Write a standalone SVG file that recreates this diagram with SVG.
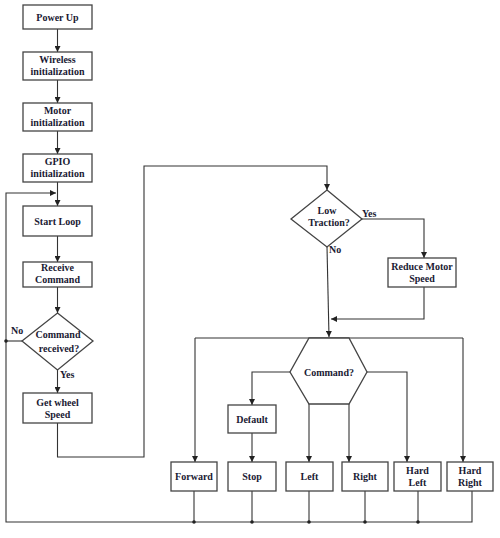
<svg xmlns="http://www.w3.org/2000/svg" width="500" height="538" viewBox="0 0 500 538">
<style>
.n rect,.n polygon{fill:#fff;stroke:#444;stroke-width:1.3}
.t{font-family:"Liberation Serif",serif;font-weight:bold;font-size:10px;fill:#1a1a33;text-anchor:middle}
.l{font-family:"Liberation Serif",serif;font-weight:bold;font-size:10px;fill:#1a1a33}
#connectors path{fill:none;stroke:#333;stroke-width:1.1}
.dot{fill:#222}
</style>
<defs>
<marker id="ah" viewBox="0 0 10 10" refX="10" refY="5" markerWidth="6" markerHeight="6" markerUnits="userSpaceOnUse" orient="auto">
<path d="M0,0 L10,5 L0,10 z" fill="#222"/>
</marker>
</defs>
<rect width="500" height="538" fill="#fff"/>
<g id="connectors">
<path d="M57.5,29 V52" marker-end="url(#ah)"/>
<path d="M57.5,80 V103" marker-end="url(#ah)"/>
<path d="M57.5,131 V154" marker-end="url(#ah)"/>
<path d="M57.5,182 V206" marker-end="url(#ah)"/>
<path d="M57.5,236 V262" marker-end="url(#ah)"/>
<path d="M57.5,287 V313" marker-end="url(#ah)"/>
<path d="M57.5,370 V393" marker-end="url(#ah)"/>
<path d="M22,341 H6"/>
<path d="M472,491 V522 H6 V193 H56" marker-end="url(#ah)"/>
<path d="M57.5,423 V457 H144 V166 H327 V190" marker-end="url(#ah)"/>
<path d="M362,219 H424 V258" marker-end="url(#ah)"/>
<path d="M327,247 L329,337" marker-end="url(#ah)"/>
<path d="M424,287 V319 H331" marker-end="url(#ah)"/>
<path d="M195,338 H463"/>
<path d="M195,338 V462" marker-end="url(#ah)"/>
<path d="M463,338 V462" marker-end="url(#ah)"/>
<path d="M290,372 H252 V405" marker-end="url(#ah)"/>
<path d="M252,433 V462" marker-end="url(#ah)"/>
<path d="M309,404 V462" marker-end="url(#ah)"/>
<path d="M349,404 V462" marker-end="url(#ah)"/>
<path d="M367,372 H407 V462" marker-end="url(#ah)"/>
<path d="M194,491 V522"/>
<path d="M252,491 V522"/>
<path d="M309,491 V522"/>
<path d="M365,491 V522"/>
<path d="M418,491 V522"/>
<circle class="dot" cx="6" cy="341" r="1.8"/>
<circle class="dot" cx="194" cy="522" r="1.8"/>
<circle class="dot" cx="252" cy="522" r="1.8"/>
<circle class="dot" cx="309" cy="522" r="1.8"/>
<circle class="dot" cx="365" cy="522" r="1.8"/>
<circle class="dot" cx="418" cy="522" r="1.8"/>
</g>
<g id="labels">
<text class="l" x="11" y="334">No</text>
<text class="l" x="60" y="378">Yes</text>
<text class="l" x="362" y="217">Yes</text>
<text class="l" x="329" y="253">No</text>
</g>
<g id="power-up" class="n"><rect x="23" y="5" width="69" height="24"/><text class="t" x="57.5" y="20.5">Power Up</text></g>
<g id="wireless" class="n"><rect x="23" y="52" width="69" height="28"/><text class="t" x="57.5" y="63">Wireless</text><text class="t" x="57.5" y="75">initialization</text></g>
<g id="motor" class="n"><rect x="23" y="103" width="69" height="28"/><text class="t" x="57.5" y="114">Motor</text><text class="t" x="57.5" y="126">initialization</text></g>
<g id="gpio" class="n"><rect x="23" y="154" width="69" height="28"/><text class="t" x="57.5" y="165">GPIO</text><text class="t" x="57.5" y="177">initialization</text></g>
<g id="start-loop" class="n"><rect x="23" y="206" width="69" height="30"/><text class="t" x="57.5" y="224.5">Start Loop</text></g>
<g id="receive" class="n"><rect x="23" y="262" width="69" height="25"/><text class="t" x="57.5" y="271">Receive</text><text class="t" x="57.5" y="283">Command</text></g>
<g id="command-received" class="n"><polygon points="57.5,313 93,341 57.5,370 22,341"/><text class="t" x="58" y="338">Command</text><text class="t" x="59" y="352">received?</text></g>
<g id="get-wheel" class="n"><rect x="23" y="393" width="69" height="30"/><text class="t" x="57.5" y="406">Get wheel</text><text class="t" x="57.5" y="418">Speed</text></g>
<g id="low-traction" class="n"><polygon points="327,190 362,219 327,247 291,219"/><text class="t" x="327" y="214">Low</text><text class="t" x="329" y="226">Traction?</text></g>
<g id="reduce" class="n"><rect x="388" y="258" width="68" height="29"/><text class="t" x="422" y="269.5">Reduce Motor</text><text class="t" x="422" y="281.5">Speed</text></g>
<g id="command" class="n"><polygon points="309,338 349,338 367,372 349,404 309,404 290,372"/><text class="t" x="329" y="375.5">Command?</text></g>
<g id="default" class="n"><rect x="228" y="405" width="48" height="28"/><text class="t" x="252" y="422.5">Default</text></g>
<g id="forward" class="n"><rect x="171" y="462" width="46" height="29"/><text class="t" x="194" y="479.5">Forward</text></g>
<g id="stop" class="n"><rect x="228" y="462" width="48" height="29"/><text class="t" x="252" y="479.5">Stop</text></g>
<g id="left" class="n"><rect x="286" y="462" width="47" height="29"/><text class="t" x="309.5" y="479.5">Left</text></g>
<g id="right" class="n"><rect x="342" y="462" width="46" height="29"/><text class="t" x="365" y="479.5">Right</text></g>
<g id="hard-left" class="n"><rect x="394" y="462" width="47" height="29"/><text class="t" x="417.5" y="473.5">Hard</text><text class="t" x="417.5" y="486">Left</text></g>
<g id="hard-right" class="n"><rect x="447" y="462" width="46" height="29"/><text class="t" x="470" y="473.5">Hard</text><text class="t" x="470" y="486">Right</text></g>
</svg>
